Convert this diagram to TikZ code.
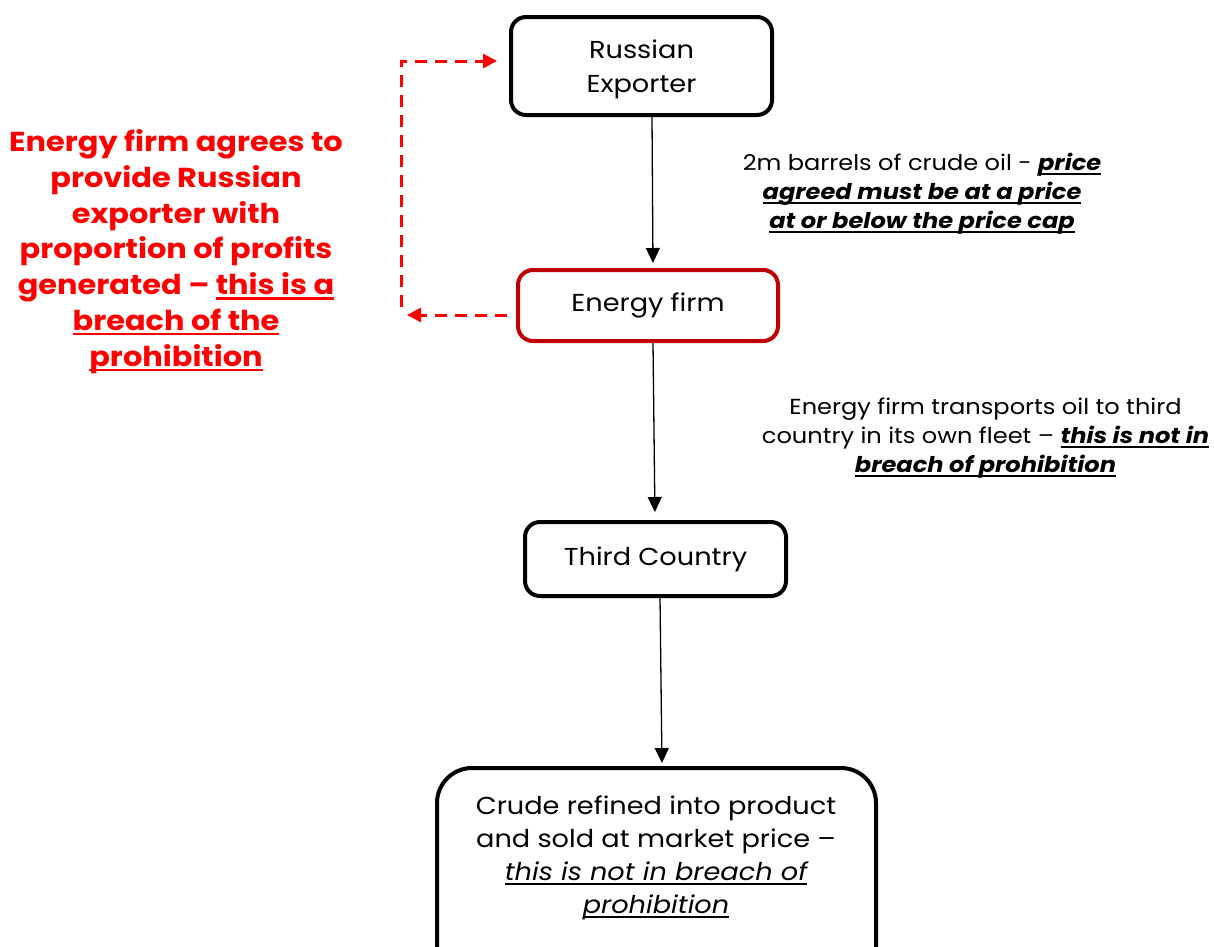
\documentclass[tikz,border=0pt]{standalone}
\usepackage{fontspec}
\setmainfont{Poppins}[FakeStretch=1.11]
\usetikzlibrary{arrows.meta}
\definecolor{darkred}{HTML}{C00000}
\definecolor{brightred}{HTML}{FF0000}
\newcommand\ulx[3]{\setbox0\hbox{#3}\rlap{\rule[-#2]{\wd0}{#1}}\box0}
\begin{document}
\begin{tikzpicture}[x=1pt,y=-1pt,
  box/.style={draw=black, line width=4pt, rounded corners=15pt, inner sep=0pt, align=center,
    font=\fontsize{24.5}{33.5}\selectfont},
  arr/.style={line width=1.3pt, -{Triangle[width=14pt,length=15pt]}},
  redarr/.style={draw=brightred, line width=3pt, dash pattern=on 12pt off 8pt,
    -{Triangle[width=14pt,length=14pt]}, brightred},
  lbl/.style={align=center, inner sep=0pt, font=\fontsize{21.7}{29}\selectfont},
  redtxt/.style={align=center, inner sep=0pt, text=brightred, font=\fontsize{27.4}{35.8}\selectfont\bfseries}]
\useasboundingbox (0,0) rectangle (1214,946);
\clip (0,0) rectangle (1214,946);

\node[box, minimum width=261pt, minimum height=98pt] (rus) at (641.5,66) {\rule{0pt}{25pt}Russian\\Exporter};
\node[box, draw=darkred, minimum width=260pt, minimum height=71pt] (ene) at (648,305.5) {Energy firm};
\node[box, minimum width=261pt, minimum height=74pt] (thi) at (655.5,559) {Third Country};
\node[box, rounded corners=35pt, minimum width=439pt, minimum height=222pt] (bot) at (656.5,879) {};
\node[align=center, inner sep=0pt, font=\fontsize{24.5}{33}\selectfont] (bottxt) at (656,858)
  {Crude refined into product\\and sold at market price --\\
   {\itshape\ulx{1.3pt}{4pt}{this is not in breach of}}\\
   {\itshape\ulx{1.3pt}{4pt}{prohibition}}};

\draw[arr, shorten >=5pt] ([xshift=10.5pt]rus.south) -- ([xshift=5pt]ene.north);
\draw[arr, shorten >=8pt] ([xshift=5pt]ene.south) -- ([xshift=-0.5pt]thi.north);
\draw[arr, shorten >=3pt] ([xshift=4.5pt]thi.south) -- ([xshift=5.5pt]bot.north);

\node[lbl] (l1) at (922,194)
  {2m barrels of crude oil - {\bfseries\itshape\ulx{2pt}{4pt}{price}}\\
   {\bfseries\itshape\ulx{2pt}{4pt}{agreed must be at a price}}\\
   {\bfseries\itshape\ulx{2pt}{4pt}{at or below the price cap}}};
\node[lbl] (l2) at (985.5,438.5)
  {Energy firm transports oil to third\\
   country in its own fleet -- {\bfseries\itshape\ulx{2pt}{4pt}{this is not in}}\\
   {\bfseries\itshape\ulx{2pt}{4pt}{breach of prohibition}}};

\node[redtxt] (rt) at (176,251.5)
  {Energy firm agrees to\\provide Russian\\exporter with\\proportion of profits\\
   generated -- \ulx{2.5pt}{5pt}{this is a}\\
   \ulx{2.5pt}{5pt}{breach of the}\\
   \ulx{2.5pt}{5pt}{prohibition}};

\coordinate (c1) at (407,315);
\coordinate (c2) at (401,307);
\draw[redarr] ([xshift=-9pt,yshift=-9.5pt]ene.west) -- (c1);
\draw[redarr, shorten >=12pt] (c2) |- ([yshift=5pt]rus.west);
\end{tikzpicture}
\end{document}
